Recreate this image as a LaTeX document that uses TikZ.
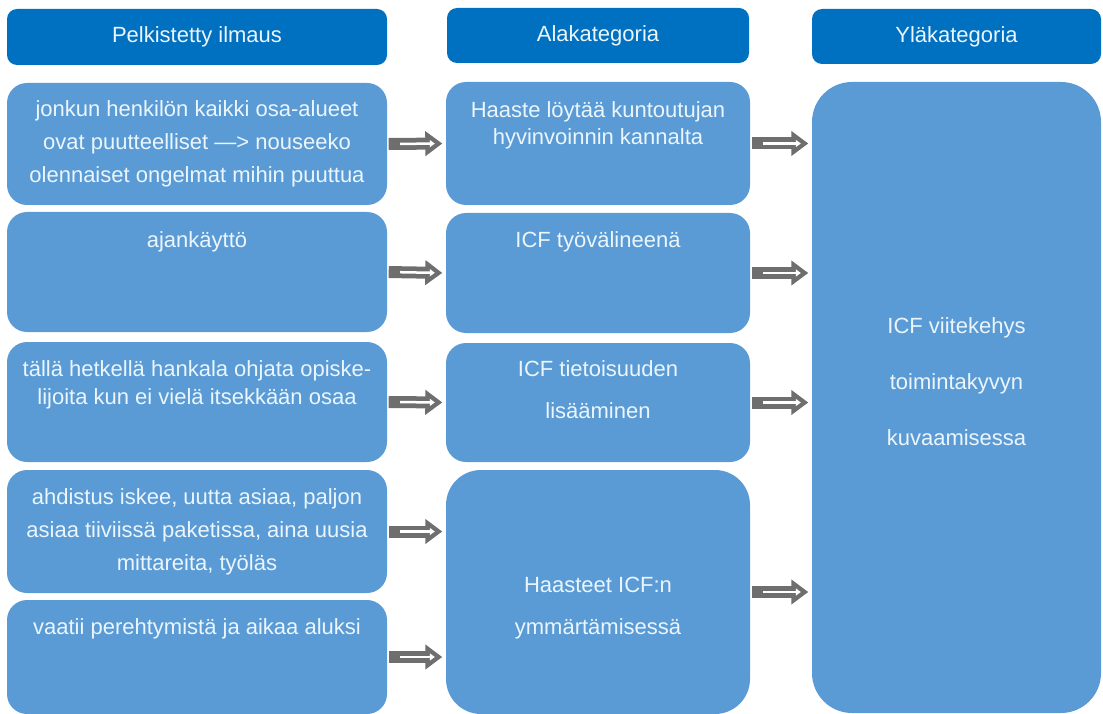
\documentclass[tikz,border=0pt]{standalone}
\usepackage{fontspec}
\setmainfont{Liberation Sans}
\usetikzlibrary{arrows.meta,positioning}
\definecolor{headblue}{RGB}{0,112,192}
\definecolor{boxblue}{RGB}{91,155,213}
\definecolor{arrowgray}{RGB}{110,110,110}
\definecolor{textwhite}{RGB}{234,245,252}
\begin{document}
\begin{tikzpicture}[x=1pt, y=-1pt, line join=round,
	head/.style={fill=headblue, rounded corners=10pt, inner sep=0pt, text=textwhite, font=\fontsize{22}{26}\selectfont},
	box/.style={fill=boxblue, rounded corners=#1, inner sep=0pt},
	box/.default=20pt,
	txt/.style={text=textwhite, align=center, inner sep=0pt, font=\fontsize{22}{#1}\selectfont},
	txt/.default=33pt,
	flow/.style={draw=arrowgray, line width=12pt, shorten <=1.5pt, shorten >=3.5pt, -{Triangle[width=24pt,length=17pt]},
		postaction={draw=white, line width=2.5pt, shorten <=13pt, shorten >=11pt, -{Triangle[width=7pt,length=5pt]}}}]
	\useasboundingbox (0,0) rectangle (1103,714);
	%% otsikot
	\node[head, minimum width=380pt, minimum height=56pt] (h1) at (197,37) {Pelkistetty ilmaus};
	\node[head, minimum width=302pt, minimum height=55pt] (h2) at (598,35.5) {Alakategoria};
	\node[head, minimum width=289pt, minimum height=55pt] (h3) at (956.5,36.5) {Yläkategoria};
	%% pelkistetyt ilmaukset
	\node[box, minimum width=380pt, minimum height=122pt] (p1) at (197,144) {};
	\node[box, minimum width=380pt, minimum height=120pt] (p2) at (197,272) {};
	\node[box, minimum width=380pt, minimum height=120pt] (p3) at (197,402) {};
	\node[box, minimum width=380pt, minimum height=123pt] (p4) at (197,531.5) {};
	\node[box, minimum width=380pt, minimum height=114pt] (p5) at (197,657) {};
	\node[txt, below=18pt of p1.north] (tp1) {jonkun henkilön kaikki osa-alueet\\ovat puutteelliset —> nouseeko\\olennaiset ongelmat mihin puuttua};
	\node[txt, below=20pt of p2.north] (tp2) {ajankäyttö};
	\node[txt=28pt, below=19pt of p3.north] (tp3) {tällä hetkellä hankala ohjata opiske-\\lijoita kun ei vielä itsekkään osaa};
	\node[txt, below=19pt of p4.north] (tp4) {ahdistus iskee, uutta asiaa, paljon\\asiaa tiiviissä paketissa,  aina uusia\\mittareita, työläs};
	\node[txt, below=19pt of p5.north] (tp5) {vaatii perehtymistä ja aikaa aluksi};
	%% alakategoriat
	\node[box, minimum width=304pt, minimum height=123pt] (m1) at (598,143.5) {};
	\node[box, minimum width=304pt, minimum height=120pt] (m2) at (598,273) {};
	\node[box, minimum width=304pt, minimum height=119pt] (m3) at (598,402.5) {};
	\node[box=35pt, minimum width=304pt, minimum height=244pt] (m4) at (598,592) {};
	\node[txt=27pt, below=20pt of m1.north] (tm1) {Haaste löytää kuntoutujan\\hyvinvoinnin kannalta};
	\node[txt, below=19pt of m2.north] (tm2) {ICF työvälineenä};
	\node[txt=42pt, below=18pt of m3.north] (tm3) {ICF tietoisuuden\\lisääminen};
	\node[txt=42pt, below=107pt of m4.north] (tm4) {Haasteet ICF:n\\ymmärtämisessä};
	%% yläkategoria
	\node[box=40pt, minimum width=289pt, minimum height=631pt] (r) at (956.5,397.5) {};
	\node[txt=56pt, below=236pt of r.north] (tr) {ICF viitekehys\\toimintakyvyn\\kuvaamisessa};
	%% nuolet
	\draw[flow] (p1.east) -- (m1.west);
	\draw[flow] (p2.east) -- (m2.west);
	\draw[flow] (p3.east) -- (m3.west);
	\draw[flow] (p4.east) -- (p4.east -| m4.west);
	\draw[flow] (p5.east) -- (p5.east -| m4.west);
	\draw[flow] (m1.east) -- (m1.east -| r.west);
	\draw[flow] (m2.east) -- (m2.east -| r.west);
	\draw[flow] (m3.east) -- (m3.east -| r.west);
	\draw[flow] (m4.east) -- (m4.east -| r.west);
\end{tikzpicture}
\end{document}
